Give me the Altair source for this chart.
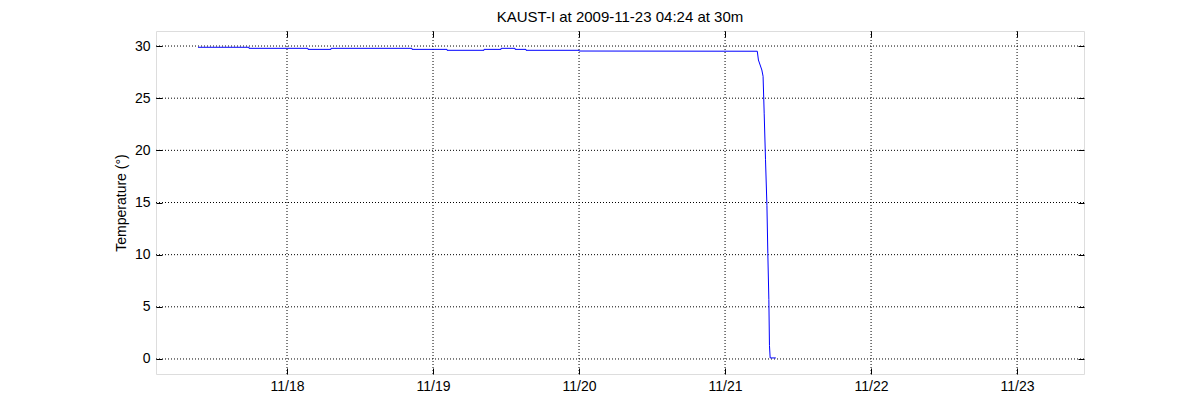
import altair as alt
import pandas as pd

# ---- data ----
times = [
    "2009-11-17 09:22", "2009-11-17 17:45",
    "2009-11-17 17:45", "2009-11-18 03:27",
    "2009-11-18 03:27", "2009-11-18 07:14",
    "2009-11-18 07:14", "2009-11-18 20:33",
    "2009-11-18 20:33", "2009-11-19 02:18",
    "2009-11-19 02:18", "2009-11-19 08:23",
    "2009-11-19 08:23", "2009-11-19 11:11",
    "2009-11-19 11:11", "2009-11-19 13:29",
    "2009-11-19 13:29", "2009-11-19 15:17",
    "2009-11-19 15:17", "2009-11-20 00:00",
    "2009-11-20 00:00", "2009-11-21 05:18",
    "2009-11-21 05:29", "2009-11-21 05:46", "2009-11-21 06:03",
    "2009-11-21 06:15", "2009-11-21 06:26", "2009-11-21 06:39",
    "2009-11-21 06:53", "2009-11-21 07:02", "2009-11-21 07:12",
    "2009-11-21 07:18", "2009-11-21 07:25", "2009-11-21 08:21",
]
temps = [
    29.88, 29.88,
    29.78, 29.78,
    29.68, 29.68,
    29.78, 29.78,
    29.68, 29.68,
    29.59, 29.59,
    29.68, 29.68,
    29.78, 29.78,
    29.68, 29.68,
    29.59, 29.59,
    29.52, 29.50,
    28.66, 28.18, 27.70,
    27.10, 23.50, 19.10,
    14.70, 10.10, 5.70,
    1.30, 0.10, 0.10,
]
x_tick_days = [18, 19, 20, 21, 22, 23]
y_ticks = [0, 5, 10, 15, 20, 25, 30]
title_text = "KAUST-I at 2009-11-23 04:24 at 30m"
y_title = "Temperature (°)"

df = pd.DataFrame({"time": times, "temp": temps})
xgrid_df = pd.DataFrame({"t": [f"2009-11-{d} 00:00" for d in x_tick_days]})
ygrid_df = pd.DataFrame({"v": y_ticks})

x_tick_vals = [alt.DateTime(year=2009, month=11, date=d) for d in x_tick_days]

FONT = "Liberation Sans"
scale_x = alt.Scale(domain=[alt.DateTime(year=2009, month=11, date=17, hours=2, minutes=28),
                            alt.DateTime(year=2009, month=11, date=23, hours=11, minutes=0)])
scale_y = alt.Scale(domain=[-1.44, 31.44], nice=False, zero=False)

common = dict(domain=False, grid=False, offset=-6, tickSize=6, tickColor="black",
              tickWidth=1, labelFont=FONT, labelFontSize=14, labelColor="black")

vgrid = alt.Chart(xgrid_df).mark_rule(color="black", strokeDash=[1, 2], strokeWidth=1).encode(
    x=alt.X("t:T", scale=scale_x,
            axis=alt.Axis(orient="top", labels=False, title=None, values=x_tick_vals, **common))
)
hgrid = alt.Chart(ygrid_df).mark_rule(color="black", strokeDash=[1, 2], strokeWidth=1).encode(
    y=alt.Y("v:Q", scale=scale_y,
            axis=alt.Axis(orient="right", labels=False, title=None, values=y_ticks, **common))
)
line = alt.Chart(df).mark_line(color="#0000ff", strokeWidth=1).encode(
    x=alt.X("time:T", scale=scale_x,
            axis=alt.Axis(orient="bottom", title=None, values=x_tick_vals, format="%m/%d",
                          labelPadding=5, **common)),
    y=alt.Y("temp:Q", scale=scale_y,
            axis=alt.Axis(orient="left", title=y_title, values=y_ticks, labelPadding=6,
                          titleFont=FONT, titleFontSize=14, titleFontWeight="normal",
                          titleColor="black", titlePadding=6, **common)),
)

chart = alt.layer(vgrid, hgrid, line).resolve_axis(x="independent", y="independent").properties(
    width=928, height=343,
    autosize="none",
    padding={"left": 148, "top": 23, "right": 108, "bottom": 38},
    title=alt.TitleParams(title_text, font=FONT, fontSize=15, fontWeight="normal",
                          color="black", anchor="middle", offset=6),
).configure_view(stroke="black", strokeWidth=1).configure(background="white")

chart.save("out.html", embed_options={"renderer": "svg", "actions": False})
